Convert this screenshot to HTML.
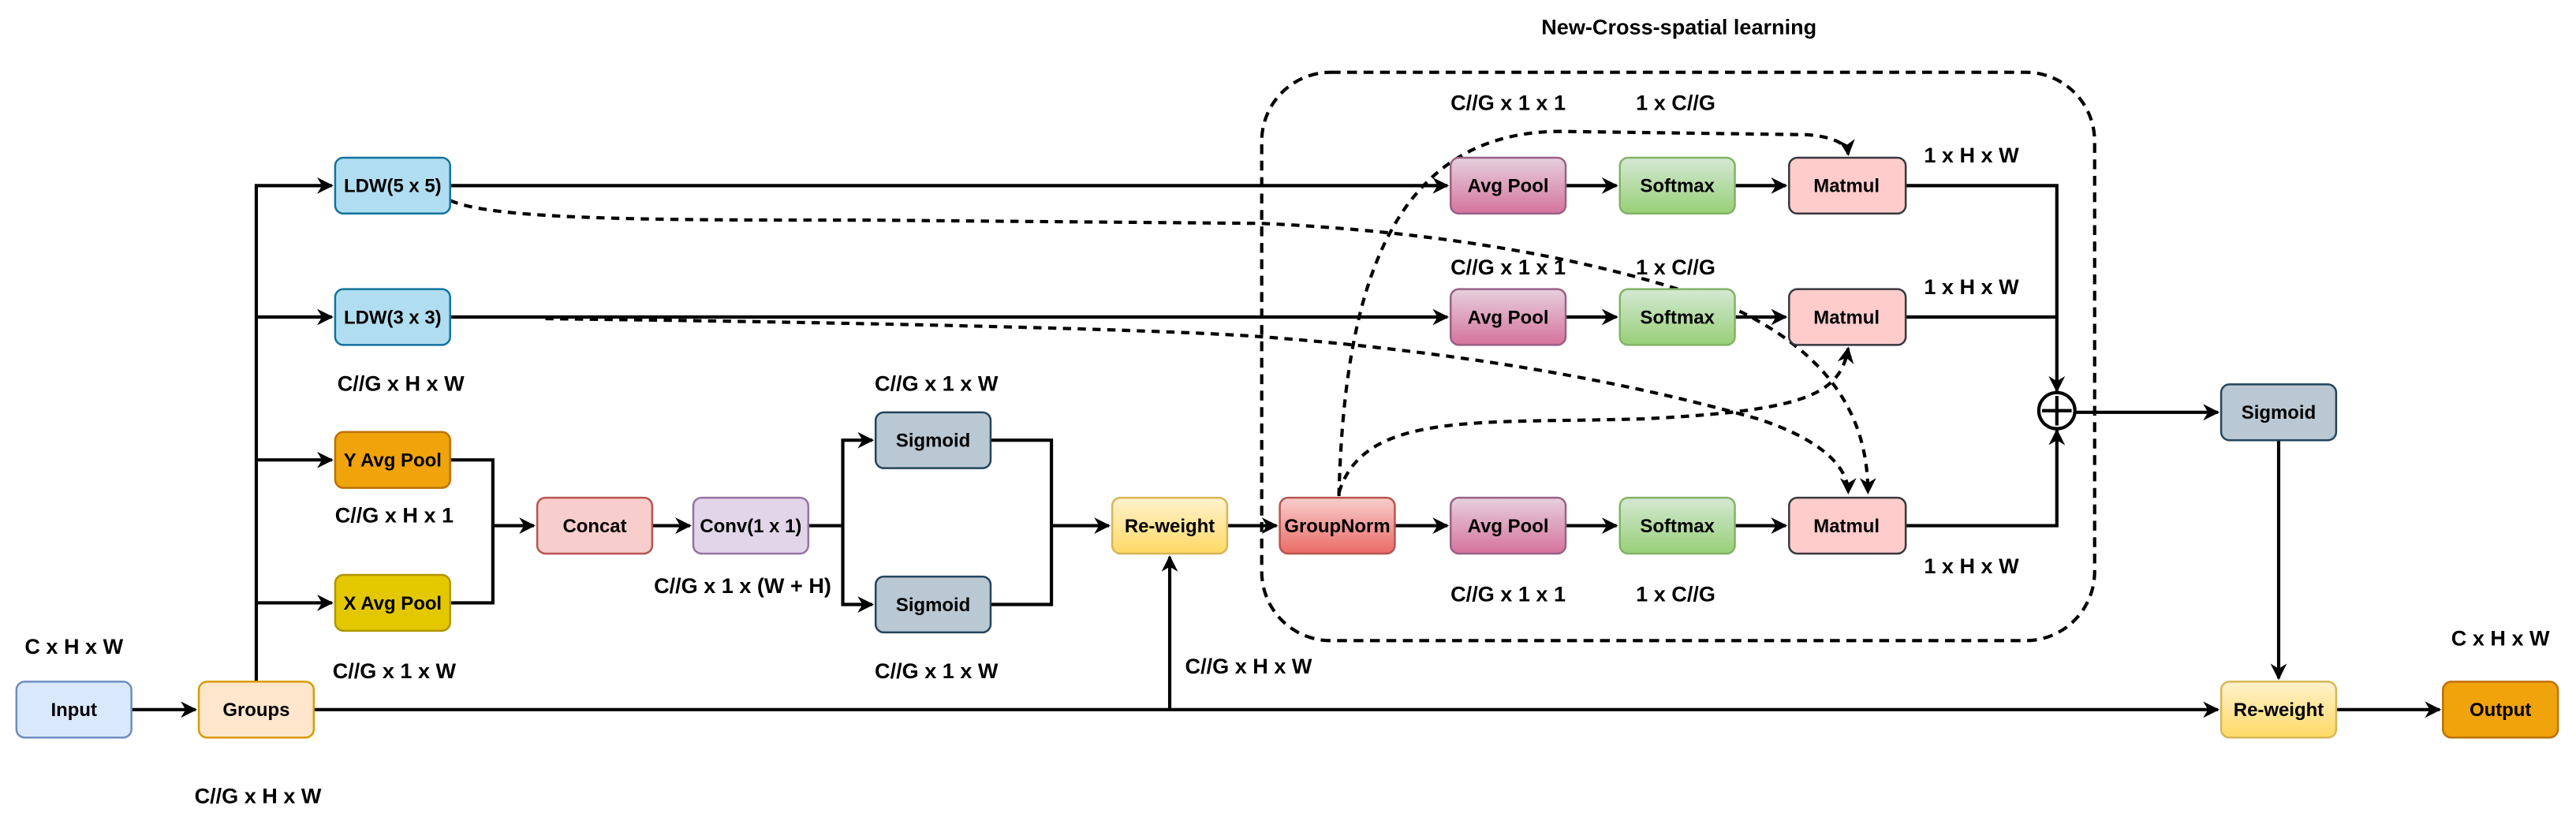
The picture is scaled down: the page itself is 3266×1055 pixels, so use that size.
<!DOCTYPE html>
<html><head><meta charset="utf-8"><style>html,body{margin:0;padding:0;background:#fff}svg{display:block}</style></head>
<body>
<svg width="3266" height="1055" viewBox="0 0 1568 506.5" xmlns="http://www.w3.org/2000/svg" font-family="Liberation Sans, Arial, sans-serif">
<defs>
<marker id="a" markerWidth="10" markerHeight="10" refX="9" refY="5" orient="auto" markerUnits="userSpaceOnUse"><path d="M0,0 L10,5 L0,10 L3,5 Z" fill="#000"/></marker>
<linearGradient id="gPink" x1="0" y1="0" x2="0" y2="1"><stop offset="0" stop-color="#e6d0de"/><stop offset="1" stop-color="#d5739d"/></linearGradient>
<linearGradient id="gGreen" x1="0" y1="0" x2="0" y2="1"><stop offset="0" stop-color="#d5e8d4"/><stop offset="1" stop-color="#97d077"/></linearGradient>
<linearGradient id="gRed" x1="0" y1="0" x2="0" y2="1"><stop offset="0" stop-color="#f8cecc"/><stop offset="1" stop-color="#ea6b66"/></linearGradient>
<linearGradient id="gYel" x1="0" y1="0" x2="0" y2="1"><stop offset="0" stop-color="#fff2cc"/><stop offset="1" stop-color="#ffd966"/></linearGradient>
</defs>
<g fill="none" stroke="#000" stroke-width="2">
<!-- dashed region -->
<rect x="768" y="44" width="507" height="346" rx="42" stroke-dasharray="6,4"/>
<!-- solid connectors -->
<path d="M80,432 L119,432" marker-end="url(#a)"/>
<path d="M191,432 L1350,432" marker-end="url(#a)"/>
<path d="M712,432 L712,339" marker-end="url(#a)"/>
<path d="M156,415 L156,113 L202,113" marker-end="url(#a)"/>
<path d="M156,193 L202,193" marker-end="url(#a)"/>
<path d="M156,280 L202,280" marker-end="url(#a)"/>
<path d="M156,367 L202,367" marker-end="url(#a)"/>
<path d="M274,113 L881,113" marker-end="url(#a)"/>
<path d="M274,193 L881,193" marker-end="url(#a)"/>
<path d="M274,280 L300,280 L300,367 L274,367"/>
<path d="M300,320 L325,320" marker-end="url(#a)"/>
<path d="M397,320 L420,320" marker-end="url(#a)"/>
<path d="M492,320 L513,320"/>
<path d="M513,320 L513,268 L531,268" marker-end="url(#a)"/>
<path d="M513,320 L513,368 L531,368" marker-end="url(#a)"/>
<path d="M603,268 L640,268 L640,368 L603,368"/>
<path d="M640,320 L675,320" marker-end="url(#a)"/>
<path d="M747,320 L777,320" marker-end="url(#a)"/>
<path d="M849,320 L881,320" marker-end="url(#a)"/>
<path d="M953,113 L984,113" marker-end="url(#a)"/>
<path d="M953,193 L984,193" marker-end="url(#a)"/>
<path d="M953,320 L984,320" marker-end="url(#a)"/>
<path d="M1056,113 L1087,113" marker-end="url(#a)"/>
<path d="M1056,193 L1087,193" marker-end="url(#a)"/>
<path d="M1056,320 L1087,320" marker-end="url(#a)"/>
<path d="M1160,113 L1252,113 L1252,238" marker-end="url(#a)"/>
<path d="M1160,193 L1252,193"/>
<path d="M1160,320 L1252,320 L1252,262" marker-end="url(#a)"/>
<path d="M1263,251 L1350,251" marker-end="url(#a)"/>
<path d="M1387,268 L1387,413" marker-end="url(#a)"/>
<path d="M1422,432 L1485,432" marker-end="url(#a)"/>
<!-- dashed curves -->
<g stroke-dasharray="5,4">
<path d="M815,302 C818,180 845,80 950,80 L1100,82 Q1124,84 1125,94" marker-end="url(#a)"/>
<path d="M815,300 C830,250 900,258 1000,255 C1100,250 1120,240 1125,212" marker-end="url(#a)"/>
<path d="M274,122 C300,134 400,134 528,134 L768,136 C900,142 1000,165 1060,190 C1120,220 1137,260 1137,300" marker-end="url(#a)"/>
<path d="M332,194 C500,196 700,200 768,205 C900,215 1000,235 1070,255 C1110,268 1125,285 1125,300" marker-end="url(#a)"/>
</g>
<circle cx="1252" cy="250" r="11" fill="#fff"/>
<path d="M1252,241 L1252,259 M1243,250 L1261,250"/>
</g>
<!-- boxes -->
<g stroke-width="1.2">
<rect x="10" y="415" width="70" height="34" rx="5" fill="#dae8fc" stroke="#6c8ebf"/>
<rect x="121" y="415" width="70" height="34" rx="5" fill="#ffe6cc" stroke="#d79b00"/>
<rect x="204" y="96" width="70" height="34" rx="5" fill="#b1ddf0" stroke="#10739e"/>
<rect x="204" y="176" width="70" height="34" rx="5" fill="#b1ddf0" stroke="#10739e"/>
<rect x="204" y="263" width="70" height="34" rx="5" fill="#f0a30a" stroke="#bd7000"/>
<rect x="204" y="350" width="70" height="34" rx="5" fill="#e3c800" stroke="#b09500"/>
<rect x="327" y="303" width="70" height="34" rx="5" fill="#f8cecc" stroke="#b85450"/>
<rect x="422" y="303" width="70" height="34" rx="5" fill="#e1d5e7" stroke="#9673a6"/>
<rect x="533" y="251" width="70" height="34" rx="5" fill="#bac8d3" stroke="#23445d"/>
<rect x="533" y="351" width="70" height="34" rx="5" fill="#bac8d3" stroke="#23445d"/>
<rect x="677" y="303" width="70" height="34" rx="5" fill="url(#gYel)" stroke="#d6b656"/>
<rect x="779" y="303" width="70" height="34" rx="5" fill="url(#gRed)" stroke="#b85450"/>
<rect x="883" y="96" width="70" height="34" rx="5" fill="url(#gPink)" stroke="#996185"/>
<rect x="883" y="176" width="70" height="34" rx="5" fill="url(#gPink)" stroke="#996185"/>
<rect x="883" y="303" width="70" height="34" rx="5" fill="url(#gPink)" stroke="#996185"/>
<rect x="986" y="96" width="70" height="34" rx="5" fill="url(#gGreen)" stroke="#82b366"/>
<rect x="986" y="176" width="70" height="34" rx="5" fill="url(#gGreen)" stroke="#82b366"/>
<rect x="986" y="303" width="70" height="34" rx="5" fill="url(#gGreen)" stroke="#82b366"/>
<rect x="1089" y="96" width="71" height="34" rx="5" fill="#ffcccc" stroke="#36393d"/>
<rect x="1089" y="176" width="71" height="34" rx="5" fill="#ffcccc" stroke="#36393d"/>
<rect x="1089" y="303" width="71" height="34" rx="5" fill="#ffcccc" stroke="#36393d"/>
<rect x="1352" y="234" width="70" height="34" rx="5" fill="#bac8d3" stroke="#23445d"/>
<rect x="1352" y="415" width="70" height="34" rx="5" fill="url(#gYel)" stroke="#d6b656"/>
<rect x="1487" y="415" width="70" height="34" rx="5" fill="#f0a30a" stroke="#bd7000"/>
</g>
<g font-size="11.5" font-weight="bold" text-anchor="middle" fill="#000">
<text x="45" y="436">Input</text>
<text x="156" y="436">Groups</text>
<text x="239" y="117">LDW(5 x 5)</text>
<text x="239" y="197">LDW(3 x 3)</text>
<text x="239" y="284">Y Avg Pool</text>
<text x="239" y="371">X Avg Pool</text>
<text x="362" y="324">Concat</text>
<text x="457" y="324">Conv(1 x 1)</text>
<text x="568" y="272">Sigmoid</text>
<text x="568" y="372">Sigmoid</text>
<text x="712" y="324">Re-weight</text>
<text x="814" y="324">GroupNorm</text>
<text x="918" y="117">Avg Pool</text>
<text x="918" y="197">Avg Pool</text>
<text x="918" y="324">Avg Pool</text>
<text x="1021" y="117">Softmax</text>
<text x="1021" y="197">Softmax</text>
<text x="1021" y="324">Softmax</text>
<text x="1124" y="117">Matmul</text>
<text x="1124" y="197">Matmul</text>
<text x="1124" y="324">Matmul</text>
<text x="1387" y="255">Sigmoid</text>
<text x="1387" y="436">Re-weight</text>
<text x="1522" y="436">Output</text>
</g>
<g font-size="13" font-weight="bold" text-anchor="middle" fill="#000">
<text x="1022" y="21">New-Cross-spatial learning</text>
<text x="918" y="67">C//G x 1 x 1</text>
<text x="1020" y="67">1 x C//G</text>
<text x="1200" y="99">1 x H x W</text>
<text x="918" y="167">C//G x 1 x 1</text>
<text x="1020" y="167">1 x C//G</text>
<text x="1200" y="179">1 x H x W</text>
<text x="918" y="366">C//G x 1 x 1</text>
<text x="1020" y="366">1 x C//G</text>
<text x="1200" y="349">1 x H x W</text>
<text x="244" y="238">C//G x H x W</text>
<text x="240" y="318">C//G x H x 1</text>
<text x="240" y="413">C//G x 1 x W</text>
<text x="452" y="361">C//G x 1 x (W + H)</text>
<text x="570" y="238">C//G x 1 x W</text>
<text x="570" y="413">C//G x 1 x W</text>
<text x="760" y="410">C//G x H x W</text>
<text x="45" y="398">C x H x W</text>
<text x="157" y="489">C//G x H x W</text>
<text x="1522" y="393">C x H x W</text>
</g>
</svg>
</body></html>
